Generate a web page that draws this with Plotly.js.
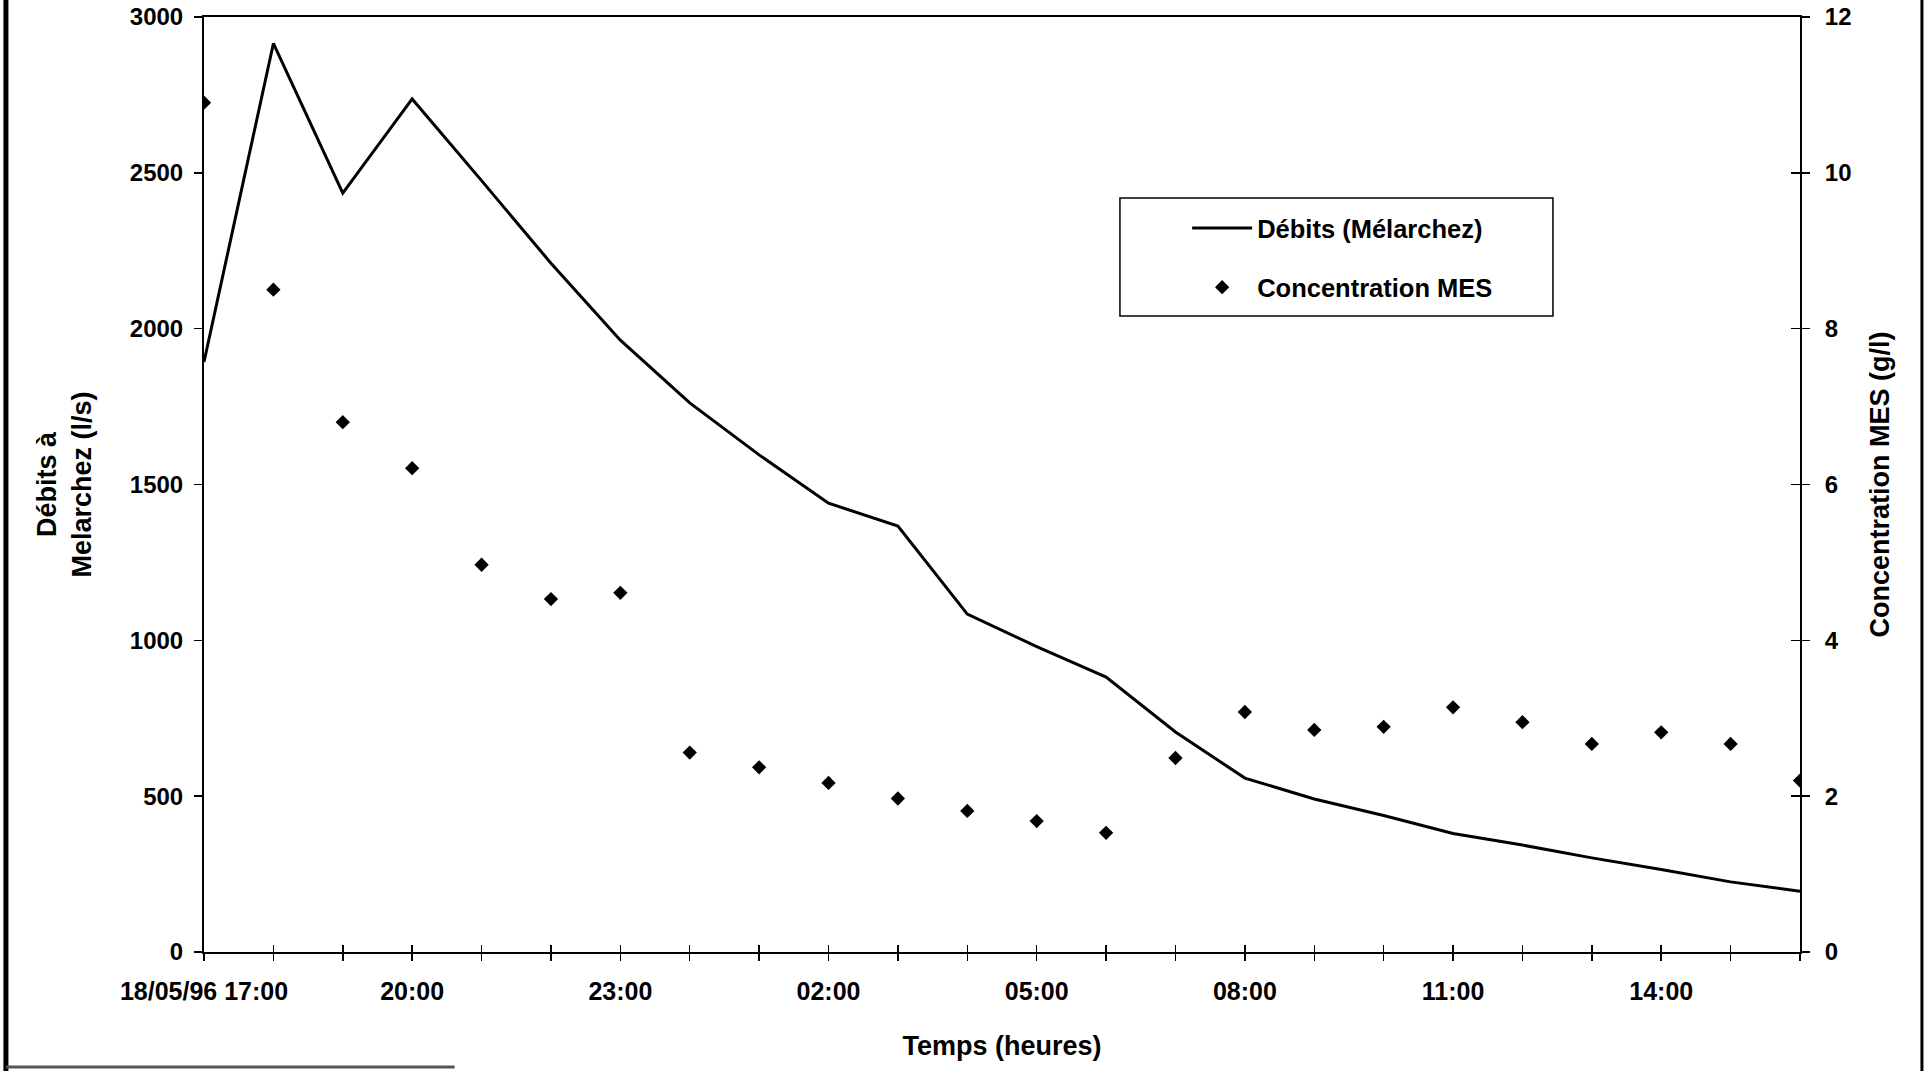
<!DOCTYPE html>
<html>
<head>
<meta charset="utf-8">
<script src="https://cdn.plot.ly/plotly-3.0.1.min.js"></script>
<style>html,body{margin:0;padding:0;background:#fff;}#chart{width:1927px;height:1071px;}</style>
</head>
<body>
<div id="chart"></div>
<script>
// Hourly sampling times
const times = [
  '1996-05-18 17:00','1996-05-18 18:00','1996-05-18 19:00','1996-05-18 20:00',
  '1996-05-18 21:00','1996-05-18 22:00','1996-05-18 23:00','1996-05-19 00:00',
  '1996-05-19 01:00','1996-05-19 02:00','1996-05-19 03:00','1996-05-19 04:00',
  '1996-05-19 05:00','1996-05-19 06:00','1996-05-19 07:00','1996-05-19 08:00',
  '1996-05-19 09:00','1996-05-19 10:00','1996-05-19 11:00','1996-05-19 12:00',
  '1996-05-19 13:00','1996-05-19 14:00','1996-05-19 15:00','1996-05-19 16:00'
];
// Débits (l/s)
const debits = [1893, 2915, 2435, 2737, 2475, 2210, 1963, 1762, 1595, 1440, 1367, 1084,
                980, 882, 706, 558, 491, 438, 380, 343, 302, 265, 225, 195];
// Concentration MES (g/l)
const mes = [10.9, 8.5, 6.8, 6.21, 4.97, 4.53, 4.61, 2.56, 2.37, 2.17, 1.97, 1.81,
             1.68, 1.53, 2.49, 3.08, 2.85, 2.89, 3.14, 2.95, 2.67, 2.82, 2.67, 2.2];
// X tick labels
const tickVals = ['1996-05-18 17:00','1996-05-18 20:00','1996-05-18 23:00','1996-05-19 02:00',
                  '1996-05-19 05:00','1996-05-19 08:00','1996-05-19 11:00','1996-05-19 14:00'];
const tickText = ['18/05/96 17:00','20:00','23:00','02:00','05:00','08:00','11:00','14:00'];

const FONT = 'Liberation Sans, Arial, sans-serif';
const HOUR = 3600000;

const traces = [
  {
    x: times, y: debits, type: 'scatter', mode: 'lines',
    name: 'Débits (Mélarchez)', legendgroup: 'a',
    line: {color: 'black', width: 3},
    xaxis: 'x', yaxis: 'y', hoverinfo: 'x+y'
  },
  {
    x: times, y: mes, type: 'scatter', mode: 'markers',
    name: 'Concentration MES', legendgroup: 'b',
    marker: {symbol: 'diamond', size: 11, color: 'black'},
    xaxis: 'x2', yaxis: 'y2', hoverinfo: 'x+y'
  }
];

const range = [times[0], times[times.length - 1]];

const layout = {
  width: 1927, height: 1071,
  margin: {l: 204, r: 127, t: 17, b: 119},
  paper_bgcolor: 'white', plot_bgcolor: 'white',
  font: {family: FONT, color: 'black', size: 24, weight: 700},
  showlegend: true,
  legend: {
    x: 0.616, y: 0.799, xanchor: 'left', yanchor: 'top',
    bgcolor: 'rgba(0,0,0,0)', borderwidth: 0,
    font: {family: FONT, size: 25.5, color: 'black', weight: 700},
    itemwidth: 60, tracegroupgap: 23
  },
  xaxis: {
    type: 'date', range: range,
    tickmode: 'array', tickvals: tickVals, ticktext: tickText,
    ticks: 'outside', ticklen: 7, tickwidth: 1.5, tickcolor: 'black',
    minor: {dtick: HOUR, tick0: times[0], ticks: 'outside', ticklen: 7, tickwidth: 1.5, tickcolor: 'black', showgrid: false},
    showline: true, linewidth: 2, linecolor: 'black', mirror: true,
    showgrid: false, zeroline: false,
    tickfont: {family: FONT, size: 25, color: 'black', weight: 700},
    ticklabelstandoff: 9,
    title: {text: 'Temps (heures)', font: {family: FONT, size: 27, color: 'black', weight: 700}, standoff: 32},
    automargin: false
  },
  xaxis2: {
    type: 'date', range: range, overlaying: 'x', anchor: 'y',
    tickmode: 'linear', tick0: times[0], dtick: HOUR,
    ticks: 'inside', ticklen: 7, tickwidth: 1.5, tickcolor: 'black',
    showticklabels: false, showline: false, showgrid: false, zeroline: false
  },
  yaxis: {
    range: [0, 3000], tickmode: 'linear', tick0: 0, dtick: 500,
    ticks: 'outside', ticklen: 8, tickwidth: 1.5, tickcolor: 'black',
    showline: true, linewidth: 2, linecolor: 'black', mirror: 'ticks',
    showgrid: false, zeroline: false,
    tickfont: {family: FONT, size: 24, color: 'black', weight: 700},
    ticklabelstandoff: 6,
    title: {text: 'Débits à<br>Melarchez (l/s)', font: {family: FONT, size: 27, color: 'black', weight: 700}, standoff: 30},
    automargin: false
  },
  yaxis2: {
    range: [0, 12], tickmode: 'linear', tick0: 0, dtick: 2,
    overlaying: 'y', side: 'right', anchor: 'x',
    ticks: 'inside', ticklen: 9, tickwidth: 1.5, tickcolor: 'black',
    showline: true, linewidth: 2, linecolor: 'black',
    showgrid: false, zeroline: false,
    tickfont: {family: FONT, size: 24, color: 'black', weight: 700},
    ticklabelstandoff: 18,
    title: {text: 'Concentration MES (g/l)', font: {family: FONT, size: 27, color: 'black', weight: 700}, standoff: 20},
    automargin: false
  },
  shapes: [
    {type: 'rect', xref: 'paper', yref: 'paper', x0: 0.5739, x1: 0.8452, y0: 0.6802, y1: 0.8064,
     line: {color: 'black', width: 1.5}, fillcolor: 'rgba(0,0,0,0)', layer: 'above'},
    {type: 'line', xref: 'paper', yref: 'paper', x0: -0.1241, x1: -0.1241, y0: -0.13, y1: 1.02, line: {color: 'black', width: 5}},
    {type: 'line', xref: 'paper', yref: 'paper', x0: 1.0764, x1: 1.0764, y0: -0.13, y1: 1.02, line: {color: 'black', width: 3}},
    {type: 'line', xref: 'paper', yref: 'paper', x0: -0.1241, x1: 0.157, y0: -0.123, y1: -0.123, line: {color: '#555', width: 3}}
  ]
};

Plotly.newPlot('chart', traces, layout, {staticPlot: true, displayModeBar: false});
</script>
</body>
</html>
